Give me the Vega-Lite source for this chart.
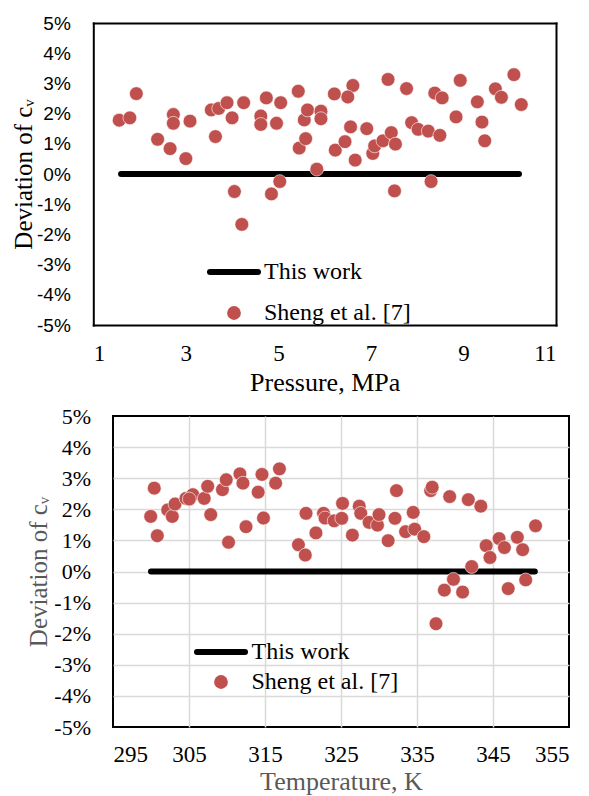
{
  "$schema": "https://vega.github.io/schema/vega-lite/v6.json",
  "background": "white",
  "padding": {"left": 11, "top": 14, "right": 0, "bottom": 0},
  "columns": 1,
  "spacing": 9,
  "resolve": {"scale": {"color": "independent"}},
  "config": {
    "view": {"stroke": "black", "strokeWidth": 2},
    "font": "Liberation Serif",
    "axis": {"ticks": false, "domain": false, "gridWidth": 1.5, "titleFontWeight": "normal", "labelColor": "black"},
    "legend": {"labelFont": "Liberation Serif", "labelFontSize": 24, "labelColor": "black"}
  },
  "datasets": {
    "topLine": [{"series": "This work", "P": 1.6, "D": 0}, {"series": "This work", "P": 10.2, "D": 0}],
    "topPts": [
      {"series": "Sheng et al. [7]", "P": 1.56, "D": 1.78}, {"series": "Sheng et al. [7]", "P": 1.79, "D": 1.86},
      {"series": "Sheng et al. [7]", "P": 1.93, "D": 2.66}, {"series": "Sheng et al. [7]", "P": 2.39, "D": 1.15},
      {"series": "Sheng et al. [7]", "P": 2.66, "D": 0.84}, {"series": "Sheng et al. [7]", "P": 2.73, "D": 1.97},
      {"series": "Sheng et al. [7]", "P": 2.73, "D": 1.68}, {"series": "Sheng et al. [7]", "P": 3.0, "D": 0.51},
      {"series": "Sheng et al. [7]", "P": 3.09, "D": 1.75}, {"series": "Sheng et al. [7]", "P": 3.55, "D": 2.12},
      {"series": "Sheng et al. [7]", "P": 3.71, "D": 2.17}, {"series": "Sheng et al. [7]", "P": 3.89, "D": 2.36},
      {"series": "Sheng et al. [7]", "P": 3.64, "D": 1.24}, {"series": "Sheng et al. [7]", "P": 4.0, "D": 1.86},
      {"series": "Sheng et al. [7]", "P": 4.05, "D": -0.58}, {"series": "Sheng et al. [7]", "P": 4.21, "D": -1.67},
      {"series": "Sheng et al. [7]", "P": 4.25, "D": 2.36}, {"series": "Sheng et al. [7]", "P": 4.62, "D": 1.92},
      {"series": "Sheng et al. [7]", "P": 4.62, "D": 1.64}, {"series": "Sheng et al. [7]", "P": 4.74, "D": 2.52},
      {"series": "Sheng et al. [7]", "P": 4.85, "D": -0.66}, {"series": "Sheng et al. [7]", "P": 4.96, "D": 1.68},
      {"series": "Sheng et al. [7]", "P": 5.03, "D": -0.25}, {"series": "Sheng et al. [7]", "P": 5.05, "D": 2.36},
      {"series": "Sheng et al. [7]", "P": 5.43, "D": 2.74}, {"series": "Sheng et al. [7]", "P": 5.56, "D": 1.79},
      {"series": "Sheng et al. [7]", "P": 5.63, "D": 2.12}, {"series": "Sheng et al. [7]", "P": 5.92, "D": 2.08},
      {"series": "Sheng et al. [7]", "P": 5.92, "D": 1.83}, {"series": "Sheng et al. [7]", "P": 5.45, "D": 0.86},
      {"series": "Sheng et al. [7]", "P": 5.59, "D": 1.17}, {"series": "Sheng et al. [7]", "P": 5.83, "D": 0.16},
      {"series": "Sheng et al. [7]", "P": 6.23, "D": 0.79}, {"series": "Sheng et al. [7]", "P": 6.21, "D": 2.65},
      {"series": "Sheng et al. [7]", "P": 6.61, "D": 2.93}, {"series": "Sheng et al. [7]", "P": 6.5, "D": 2.55},
      {"series": "Sheng et al. [7]", "P": 6.56, "D": 1.56}, {"series": "Sheng et al. [7]", "P": 6.91, "D": 1.5},
      {"series": "Sheng et al. [7]", "P": 6.44, "D": 1.07}, {"series": "Sheng et al. [7]", "P": 6.66, "D": 0.46},
      {"series": "Sheng et al. [7]", "P": 7.04, "D": 0.68}, {"series": "Sheng et al. [7]", "P": 7.08, "D": 0.93},
      {"series": "Sheng et al. [7]", "P": 7.26, "D": 1.1}, {"series": "Sheng et al. [7]", "P": 7.44, "D": 1.37},
      {"series": "Sheng et al. [7]", "P": 7.53, "D": 0.99}, {"series": "Sheng et al. [7]", "P": 7.37, "D": 3.13},
      {"series": "Sheng et al. [7]", "P": 7.77, "D": 2.83}, {"series": "Sheng et al. [7]", "P": 7.51, "D": -0.56},
      {"series": "Sheng et al. [7]", "P": 7.88, "D": 1.7}, {"series": "Sheng et al. [7]", "P": 8.02, "D": 1.48},
      {"series": "Sheng et al. [7]", "P": 8.24, "D": 1.42}, {"series": "Sheng et al. [7]", "P": 8.49, "D": 1.28},
      {"series": "Sheng et al. [7]", "P": 8.38, "D": 2.68}, {"series": "Sheng et al. [7]", "P": 8.54, "D": 2.52},
      {"series": "Sheng et al. [7]", "P": 8.3, "D": -0.25}, {"series": "Sheng et al. [7]", "P": 8.93, "D": 3.1},
      {"series": "Sheng et al. [7]", "P": 8.84, "D": 1.89}, {"series": "Sheng et al. [7]", "P": 9.3, "D": 2.39},
      {"series": "Sheng et al. [7]", "P": 9.4, "D": 1.72}, {"series": "Sheng et al. [7]", "P": 9.46, "D": 1.1},
      {"series": "Sheng et al. [7]", "P": 9.69, "D": 2.82}, {"series": "Sheng et al. [7]", "P": 9.82, "D": 2.54},
      {"series": "Sheng et al. [7]", "P": 10.09, "D": 3.29}, {"series": "Sheng et al. [7]", "P": 10.25, "D": 2.3}
    ],
    "botLine": [{"series": "This work", "T": 300.0, "D": 0}, {"series": "This work", "T": 350.5, "D": 0}],
    "botPts": [
      {"series": "Sheng et al. [7]", "T": 300.43, "D": 2.68}, {"series": "Sheng et al. [7]", "T": 299.96, "D": 1.77},
      {"series": "Sheng et al. [7]", "T": 300.83, "D": 1.15}, {"series": "Sheng et al. [7]", "T": 302.2, "D": 1.98},
      {"series": "Sheng et al. [7]", "T": 302.8, "D": 1.77}, {"series": "Sheng et al. [7]", "T": 303.16, "D": 2.17},
      {"series": "Sheng et al. [7]", "T": 304.6, "D": 2.35}, {"series": "Sheng et al. [7]", "T": 305.5, "D": 2.47},
      {"series": "Sheng et al. [7]", "T": 305.04, "D": 2.33}, {"series": "Sheng et al. [7]", "T": 307.0, "D": 2.35},
      {"series": "Sheng et al. [7]", "T": 307.46, "D": 2.74}, {"series": "Sheng et al. [7]", "T": 307.86, "D": 1.83},
      {"series": "Sheng et al. [7]", "T": 309.4, "D": 2.63}, {"series": "Sheng et al. [7]", "T": 309.9, "D": 2.95},
      {"series": "Sheng et al. [7]", "T": 310.2, "D": 0.94}, {"series": "Sheng et al. [7]", "T": 311.7, "D": 3.14},
      {"series": "Sheng et al. [7]", "T": 312.1, "D": 2.84}, {"series": "Sheng et al. [7]", "T": 312.5, "D": 1.44},
      {"series": "Sheng et al. [7]", "T": 314.1, "D": 2.55}, {"series": "Sheng et al. [7]", "T": 314.6, "D": 3.12},
      {"series": "Sheng et al. [7]", "T": 314.8, "D": 1.72}, {"series": "Sheng et al. [7]", "T": 316.4, "D": 2.84},
      {"series": "Sheng et al. [7]", "T": 316.9, "D": 3.3}, {"series": "Sheng et al. [7]", "T": 319.4, "D": 0.86},
      {"series": "Sheng et al. [7]", "T": 320.3, "D": 0.53}, {"series": "Sheng et al. [7]", "T": 320.4, "D": 1.87},
      {"series": "Sheng et al. [7]", "T": 321.7, "D": 1.24}, {"series": "Sheng et al. [7]", "T": 322.7, "D": 1.87},
      {"series": "Sheng et al. [7]", "T": 322.9, "D": 1.72}, {"series": "Sheng et al. [7]", "T": 324.1, "D": 1.63},
      {"series": "Sheng et al. [7]", "T": 325.1, "D": 1.71}, {"series": "Sheng et al. [7]", "T": 325.2, "D": 2.19},
      {"series": "Sheng et al. [7]", "T": 326.5, "D": 1.17}, {"series": "Sheng et al. [7]", "T": 327.4, "D": 2.1},
      {"series": "Sheng et al. [7]", "T": 327.6, "D": 1.87}, {"series": "Sheng et al. [7]", "T": 328.7, "D": 1.58},
      {"series": "Sheng et al. [7]", "T": 329.8, "D": 1.49}, {"series": "Sheng et al. [7]", "T": 330.0, "D": 1.83},
      {"series": "Sheng et al. [7]", "T": 331.2, "D": 0.99}, {"series": "Sheng et al. [7]", "T": 332.1, "D": 1.71},
      {"series": "Sheng et al. [7]", "T": 332.3, "D": 2.6}, {"series": "Sheng et al. [7]", "T": 333.5, "D": 1.28},
      {"series": "Sheng et al. [7]", "T": 334.5, "D": 1.9}, {"series": "Sheng et al. [7]", "T": 334.7, "D": 1.36},
      {"series": "Sheng et al. [7]", "T": 335.9, "D": 1.12}, {"series": "Sheng et al. [7]", "T": 336.8, "D": 2.6},
      {"series": "Sheng et al. [7]", "T": 337.0, "D": 2.71}, {"series": "Sheng et al. [7]", "T": 337.5, "D": -1.68},
      {"series": "Sheng et al. [7]", "T": 338.6, "D": -0.6}, {"series": "Sheng et al. [7]", "T": 339.8, "D": -0.25},
      {"series": "Sheng et al. [7]", "T": 341.0, "D": -0.66}, {"series": "Sheng et al. [7]", "T": 339.3, "D": 2.41},
      {"series": "Sheng et al. [7]", "T": 341.75, "D": 2.31}, {"series": "Sheng et al. [7]", "T": 343.4, "D": 2.1},
      {"series": "Sheng et al. [7]", "T": 342.2, "D": 0.16}, {"series": "Sheng et al. [7]", "T": 344.1, "D": 0.83},
      {"series": "Sheng et al. [7]", "T": 344.6, "D": 0.45}, {"series": "Sheng et al. [7]", "T": 345.8, "D": 1.06},
      {"series": "Sheng et al. [7]", "T": 346.5, "D": 0.77}, {"series": "Sheng et al. [7]", "T": 347.0, "D": -0.55},
      {"series": "Sheng et al. [7]", "T": 348.2, "D": 1.1}, {"series": "Sheng et al. [7]", "T": 348.9, "D": 0.7},
      {"series": "Sheng et al. [7]", "T": 349.3, "D": -0.27}, {"series": "Sheng et al. [7]", "T": 350.6, "D": 1.47}
    ]
  },
  "concat": [
    {
      "width": 443,
      "height": 302,
      "view": {"stroke": null},
      "resolve": {"axis": {"x": "independent", "y": "independent"}},
      "layer": [
        {
          "data": {"name": "topLine"},
          "mark": {"type": "line", "strokeWidth": 6, "strokeCap": "round"},
          "encoding": {
            "x": {"field": "P", "type": "quantitative", "scale": {"domain": [1, 11], "range": [-19.7, 443], "nice": false, "zero": false},
              "axis": {"orient": "top", "labels": false, "grid": false, "title": null, "domain": true, "domainColor": "black", "domainWidth": 2, "domainCap": "square"}},
            "y": {"field": "D", "type": "quantitative", "scale": {"domain": [-5, 5], "nice": false},
              "axis": {"orient": "right", "labels": false, "grid": false, "title": null, "domain": true, "domainColor": "black", "domainWidth": 2, "domainCap": "square"}},
            "color": {"field": "series", "type": "nominal",
              "scale": {"domain": ["This work", "Sheng et al. [7]"], "range": ["black", "#C0504D"]},
              "legend": {"title": null, "orient": "none", "legendX": 109, "legendY": 237, "padding": 0, "rowPadding": 17,
                "symbolType": "M-6,0H6", "symbolSize": 64, "symbolStrokeWidth": 6, "labelOffset": 18,
                "encode": {"symbols": {"update": {
                  "shape": {"signal": "datum.value === 'This work' ? 'M-6,0H6' : 'circle'"},
                  "size": {"signal": "datum.value === 'This work' ? 64 : 190"},
                  "fill": {"signal": "datum.value === 'This work' ? 'transparent' : '#C0504D'"},
                  "stroke": {"signal": "datum.value === 'This work' ? 'black' : 'transparent'"},
                  "strokeWidth": {"signal": "datum.value === 'This work' ? 6 : 0"},
                  "strokeCap": {"value": "round"},
                  "opacity": {"value": 1}, "fillOpacity": {"value": 1}, "strokeOpacity": {"value": 1}}}}}}
          }
        },
        {
          "data": {"name": "topPts"},
          "mark": {"type": "point", "filled": true, "size": 190, "opacity": 1, "stroke": "#ffffff", "strokeWidth": 0.6},
          "encoding": {
            "x": {"field": "P", "type": "quantitative", "scale": {"domain": [1, 11], "range": [-19.7, 443], "nice": false, "zero": false},
              "axis": {"values": [1, 3, 5, 7, 9, 11], "title": "Pressure, MPa", "labelFont": "Liberation Serif", "labelFontSize": 23, "labelPadding": 17,
                "titleFont": "Liberation Serif", "titleFontSize": 26, "titlePadding": 4, "titleColor": "black",
                "domain": true, "domainColor": "black", "domainWidth": 2, "domainCap": "square",
                "gridColor": {"condition": {"test": "datum.value == 1 || datum.value == 11", "value": "transparent"}, "value": "#d9d9d9"}}},
            "y": {"field": "D", "type": "quantitative", "scale": {"domain": [-5, 5], "nice": false},
              "axis": {"values": [-5, -4, -3, -2, -1, 0, 1, 2, 3, 4, 5], "labelExpr": "datum.value + '%'", "title": "Deviation of cᵥ",
                "offset": 19.7, "domain": true, "domainColor": "black", "domainWidth": 2, "domainCap": "square",
                "labelFont": "Liberation Sans", "labelFontSize": 19, "labelPadding": 23,
                "titleFont": "Liberation Serif", "titleFontSize": 25, "titlePadding": 0, "titleColor": "black",
                "gridColor": {"condition": {"test": "abs(datum.value) == 5", "value": "transparent"}, "value": "#d9d9d9"}}},
            "color": {"field": "series", "type": "nominal",
              "scale": {"domain": ["This work", "Sheng et al. [7]"], "range": ["black", "#C0504D"]}}
          }
        }
      ]
    },
    {
      "width": 456,
      "height": 311,
      "encoding": {
        "x": {"field": "T", "type": "quantitative", "scale": {"domain": [295, 355], "nice": false, "zero": false},
          "axis": {"values": [295, 305, 315, 325, 335, 345, 355], "title": "Temperature, K", "labelFont": "Liberation Serif", "labelFontSize": 23, "labelPadding": 16,
            "titleFont": "Liberation Serif", "titleFontSize": 26, "titlePadding": 2, "titleColor": "#595959",
            "gridColor": {"condition": {"test": "datum.value == 295 || datum.value == 355", "value": "transparent"}, "value": "#d9d9d9"}}},
        "y": {"field": "D", "type": "quantitative", "scale": {"domain": [-5, 5], "nice": false},
          "axis": {"values": [-5, -4, -3, -2, -1, 0, 1, 2, 3, 4, 5], "labelExpr": "datum.value + '%'", "title": "Deviation of cᵥ",
            "labelFont": "Liberation Serif", "labelFontSize": 22, "labelPadding": 22.5,
            "titleFont": "Liberation Serif", "titleFontSize": 25, "titlePadding": 2, "titleColor": "#595959",
            "gridColor": {"condition": {"test": "abs(datum.value) == 5", "value": "transparent"}, "value": "#d9d9d9"}}},
        "color": {"field": "series", "type": "nominal",
          "scale": {"domain": ["This work", "Sheng et al. [7]"], "range": ["black", "#C0504D"]},
          "legend": {"title": null, "orient": "none", "legendX": 96, "legendY": 224, "padding": 0, "rowPadding": 6,
            "symbolType": "M-6,0H6", "symbolSize": 64, "symbolStrokeWidth": 6, "labelOffset": 18.5,
            "encode": {"symbols": {"update": {
              "shape": {"signal": "datum.value === 'This work' ? 'M-6,0H6' : 'circle'"},
              "size": {"signal": "datum.value === 'This work' ? 64 : 190"},
              "fill": {"signal": "datum.value === 'This work' ? 'transparent' : '#C0504D'"},
              "stroke": {"signal": "datum.value === 'This work' ? 'black' : 'transparent'"},
              "strokeWidth": {"signal": "datum.value === 'This work' ? 6 : 0"},
              "strokeCap": {"value": "round"},
              "opacity": {"value": 1}, "fillOpacity": {"value": 1}, "strokeOpacity": {"value": 1}}}}}}
      },
      "layer": [
        {"data": {"name": "botLine"}, "mark": {"type": "line", "strokeWidth": 6, "strokeCap": "round"}},
        {"data": {"name": "botPts"}, "mark": {"type": "point", "filled": true, "size": 190, "opacity": 1, "stroke": "#ffffff", "strokeWidth": 0.6}}
      ]
    }
  ]
}
